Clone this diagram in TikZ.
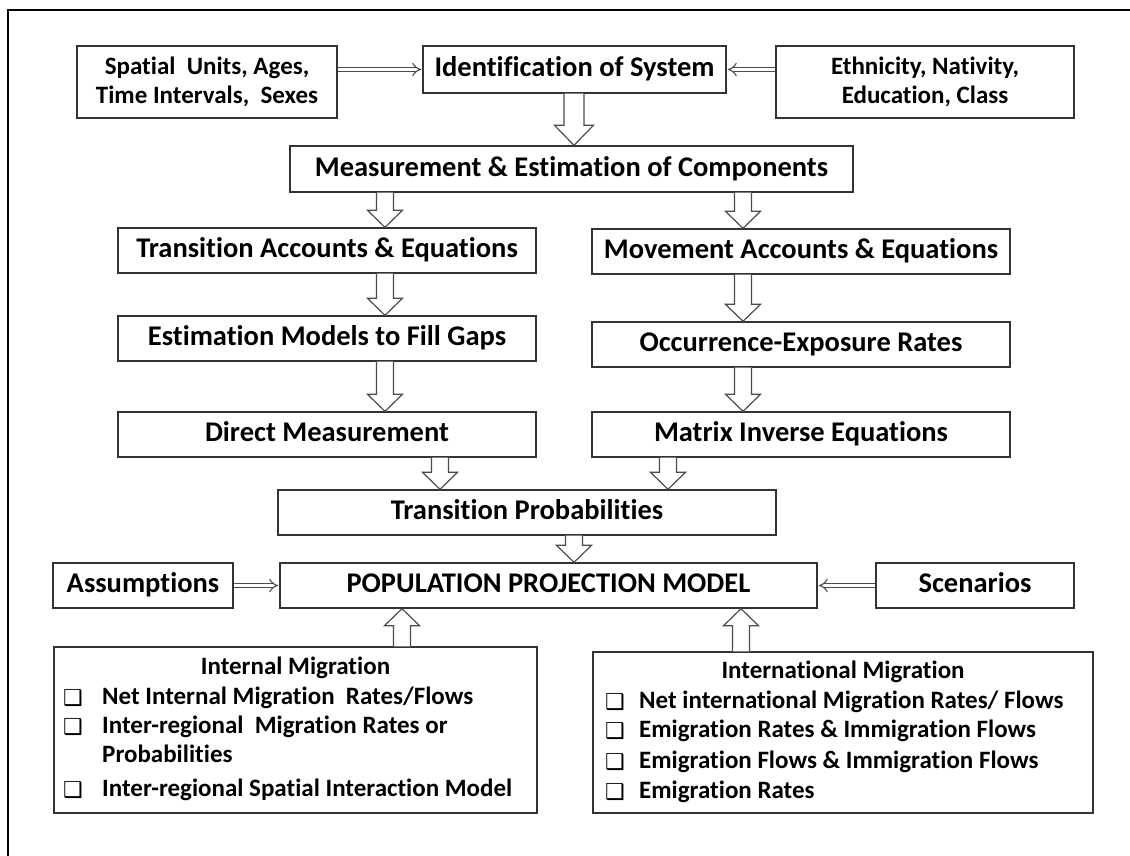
\documentclass[tikz,border=0pt]{standalone}
\usepackage{fontspec}
\setmainfont{Carlito}[Ligatures=NoCommon]
\newfontfamily\symfont{DejaVu Sans}
\usetikzlibrary{calc,arrows.meta}

% hollow block arrow from tail point #1 to tip point #2
% (shaft half width, head half width and head length from the macros below)
\newcommand\shafthw{8.5pt}
\newcommand\headhw{17.5pt}
\newcommand\headlen{17pt}
\newcommand\blockarr[2]{%
  \coordinate (ba-t) at #1;
  \coordinate (ba-p) at #2;
  \coordinate (ba-b) at ($(ba-p)!\headlen!(ba-t)$);
  \filldraw[blockline]
    ($(ba-t)!\shafthw!90:(ba-p)$) -- ($(ba-b)!\shafthw!90:(ba-p)$)
    -- ($(ba-b)!\headhw!90:(ba-p)$) -- (ba-p)
    -- ($(ba-b)!\headhw!-90:(ba-p)$) -- ($(ba-b)!\shafthw!-90:(ba-p)$)
    -- ($(ba-t)!\shafthw!-90:(ba-p)$);}

\begin{document}
\begin{tikzpicture}[x=1pt,y=-1pt,
  box/.style={draw=black!80, line width=1.4pt, fill=white, inner sep=0pt,
    align=center, text height=21pt, text depth=6.5pt,
    font=\bfseries\fontsize{28.5}{34}\selectfont},
  sidebox/.style={draw=black!80, line width=1.4pt, fill=white, inner sep=0pt,
    align=center, font=\bfseries\fontsize{25}{29}\selectfont},
  migbox/.style={draw=black!80, line width=1.4pt, inner sep=0pt},
  migtitle/.style={inner sep=0pt, font=\bfseries\fontsize{25}{29}\selectfont},
  migitem/.style={inner sep=0pt, anchor=west, text height=18.5pt, text depth=5.8pt,
    font=\bfseries\fontsize{25}{29}\selectfont},
  bulletmark/.style={inner sep=0pt, font=\symfont\bfseries\fontsize{22}{24}\selectfont},
  blockline/.style={draw=black!70, line width=1.2pt, fill=white, line join=miter},
  feed/.style={draw=black!70, line width=1.1pt, double=white, double distance=3.6pt,
    -{Implies}, shorten >=1pt},
]
\useasboundingbox (0,0) rectangle (1130,855);
\fill[white] (0,0) rectangle (1130,855);
% outer frame
\draw[line width=2pt] (8,870) -- (8,10) -- (1150,10);

% column positions of the vertical arrows
\coordinate (colL) at (385,0);
\coordinate (colR) at (743,0);
\coordinate (colM) at (574,0);
\coordinate (tpL) at (440,0);
\coordinate (tpR) at (668,0);
\coordinate (upL) at (402,0);
\coordinate (upR) at (741,0);

% boxes
\node[sidebox, minimum width=260, minimum height=72] (spatial) at (207,82)
  {Spatial\ \ Units, Ages,\\Time Intervals,\ \ Sexes};
\node[box, minimum width=303, minimum height=47] (ident) at (574.5,69.5)
  {Identification of System};
\node[sidebox, minimum width=298, minimum height=72] (ethnic) at (925,82)
  {Ethnicity, Nativity,\\Education, Class};
\node[box, minimum width=563, minimum height=46] (measure) at (571.5,169)
  {Measurement \& Estimation of Components};
\node[box, minimum width=418, minimum height=45] (transacc) at (327,250.5)
  {Transition Accounts \& Equations};
\node[box, minimum width=418, minimum height=45] (movement) at (801,251.5)
  {Movement Accounts \& Equations};
\node[box, minimum width=418, minimum height=45] (estim) at (327,338.5)
  {Estimation Models to Fill Gaps};
\node[box, minimum width=418, minimum height=45] (occur) at (801,344.5)
  {Occurrence-Exposure Rates};
\node[box, minimum width=418, minimum height=45] (direct) at (327,434.5)
  {Direct Measurement};
\node[box, minimum width=418, minimum height=45] (matrix) at (801,434.5)
  {Matrix Inverse Equations};
\node[box, minimum width=498, minimum height=45] (transprob) at (527,512.5)
  {Transition Probabilities};
\node[box, minimum width=180, minimum height=45] (assump) at (143,585.5)
  {Assumptions};
\node[box, minimum width=537, minimum height=45] (popmodel) at (548.5,585.5)
  {POPULATION PROJECTION MODEL};
\node[box, minimum width=198, minimum height=45] (scen) at (975,585.5)
  {Scenarios};

% migration boxes
\node[migbox, minimum width=483, minimum height=166] (intmig) at (295.5,730) {};
\node[migtitle] (intmig-t) at (295.5,668) {Internal Migration};
\node[bulletmark] (intmig-b1) at (73,698) {❑};
\node[migitem] (intmig-1) at (102,698) {Net Internal Migration\ \ Rates/Flows};
\node[bulletmark] (intmig-b2) at (73,727) {❑};
\node[migitem] (intmig-2) at (102,727) {Inter-regional\ \ Migration Rates or};
\node[migitem] (intmig-2b) at (102,756) {Probabilities};
\node[bulletmark] (intmig-b3) at (73,790) {❑};
\node[migitem] (intmig-3) at (102,790) {Inter-regional Spatial Interaction Model};

\node[migbox, minimum width=500, minimum height=161] (natmig) at (843,732.5) {};
\node[migtitle] (natmig-t) at (843,672) {International Migration};
\node[bulletmark] (natmig-b1) at (615,702) {❑};
\node[migitem] (natmig-1) at (639,702) {Net international Migration Rates/ Flows};
\node[bulletmark] (natmig-b2) at (615,731) {❑};
\node[migitem] (natmig-2) at (639,731) {Emigration Rates \& Immigration Flows};
\node[bulletmark] (natmig-b3) at (615,762) {❑};
\node[migitem] (natmig-3) at (639,762) {Emigration Flows \& Immigration Flows};
\node[bulletmark] (natmig-b4) at (615,792) {❑};
\node[migitem] (natmig-4) at (639,792) {Emigration Rates};

% side inputs (double-line arrows)
\draw[feed] (spatial.east |- ident.west) -- (ident.west);
\draw[feed] (ethnic.west |- ident.east) -- (ident.east);
\draw[feed] (assump.east) -- (popmodel.west);
\draw[feed] (scen.west) -- (popmodel.east);

% block arrows
\begingroup
\renewcommand\shafthw{10pt}\renewcommand\headhw{19.5pt}\renewcommand\headlen{20pt}
\blockarr{(ident.south -| colM)}{(measure.north -| colM)}
\endgroup
\blockarr{(measure.south -| colL)}{(transacc.north -| colL)}
\blockarr{(measure.south -| colR)}{(movement.north -| colR)}
\blockarr{(transacc.south -| colL)}{(estim.north -| colL)}
\blockarr{(movement.south -| colR)}{(occur.north -| colR)}
\blockarr{(estim.south -| colL)}{(direct.north -| colL)}
\blockarr{(occur.south -| colR)}{(matrix.north -| colR)}
\blockarr{(direct.south -| tpL)}{(transprob.north -| tpL)}
\blockarr{(matrix.south -| tpR)}{(transprob.north -| tpR)}
\blockarr{(transprob.south -| colM)}{(popmodel.north -| colM)}
\blockarr{(intmig.north -| upL)}{(popmodel.south -| upL)}
\blockarr{(natmig.north -| upR)}{(popmodel.south -| upR)}
\end{tikzpicture}
\end{document}
